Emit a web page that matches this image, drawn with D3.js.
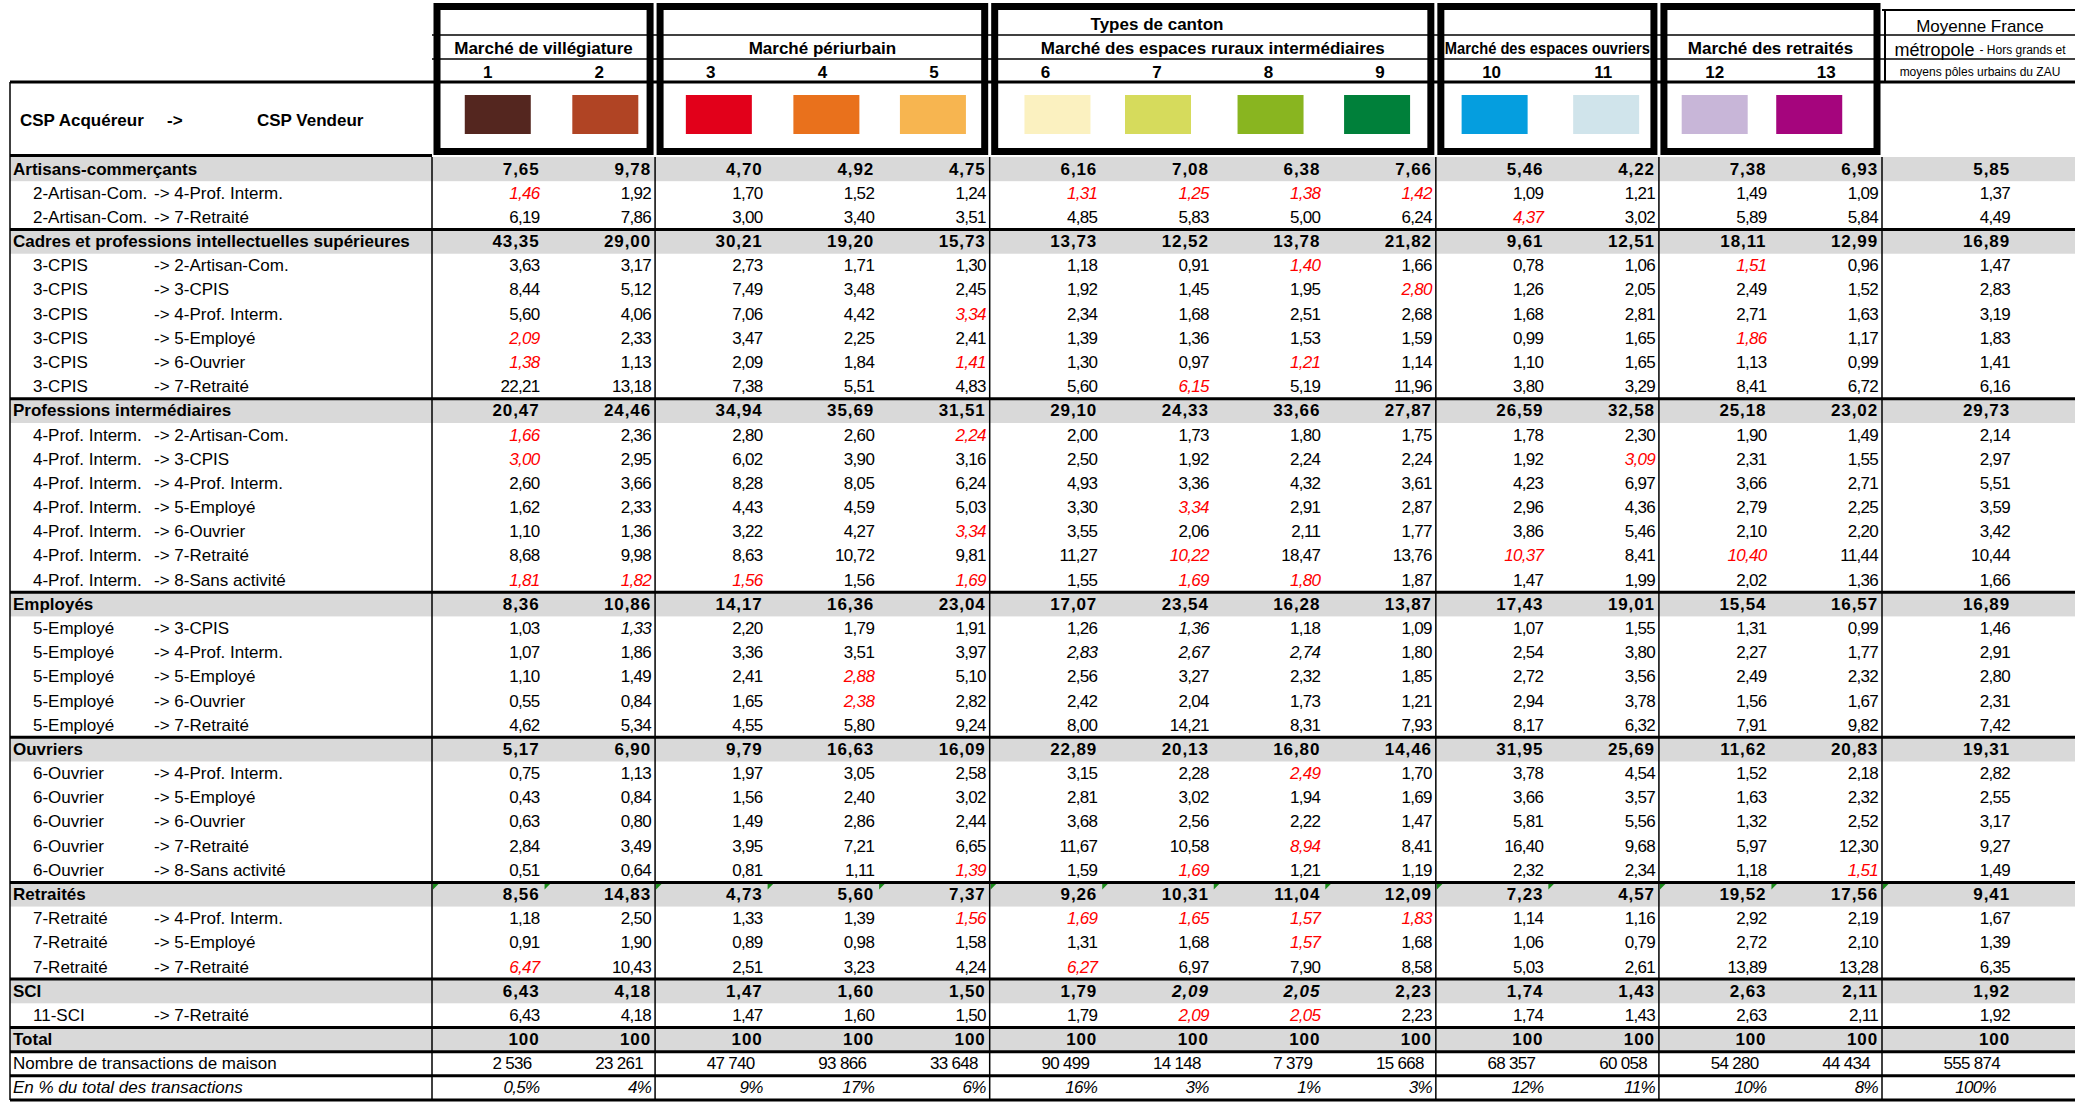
<!DOCTYPE html>
<html>
<head>
<meta charset="utf-8">
<script src="https://cdn.jsdelivr.net/npm/d3@7"></script>
<style>
  body { margin: 0; background: #fff; }
  svg text { font-family: "Liberation Sans", Arial, sans-serif; font-size: 17px; fill: #000; }
</style>
</head>
<body>
<div id="chart"></div>
<script>
// column headers
const colNumbers = ["1", "2", "3", "4", "5", "6", "7", "8", "9", "10", "11", "12", "13"];
const marketNames = ["Marché de villégiature", "Marché périurbain", "Marché des espaces ruraux intermédiaires",
                     "Marché des espaces ouvriers", "Marché des retraités"];
const marketSizes = [2, 3, 4, 2, 2];
const swatchColors = ["#54261f", "#b04424", "#e2001a", "#e9711c", "#f7b550", "#fbf1c0", "#d6db5c",
                      "#89b520", "#00803a", "#059edf", "#d0e4eb", "#c8b6d8", "#a5057d"];

// row labels (acquéreur / vendeur); empty vendeur = group row
const rowLabels = [
  "Artisans-commerçants", "2-Artisan-Com.", "2-Artisan-Com.",
  "Cadres et professions intellectuelles supérieures", "3-CPIS", "3-CPIS", "3-CPIS", "3-CPIS", "3-CPIS", "3-CPIS",
  "Professions intermédiaires", "4-Prof. Interm.", "4-Prof. Interm.", "4-Prof. Interm.", "4-Prof. Interm.", "4-Prof. Interm.", "4-Prof. Interm.", "4-Prof. Interm.",
  "Employés", "5-Employé", "5-Employé", "5-Employé", "5-Employé", "5-Employé",
  "Ouvriers", "6-Ouvrier", "6-Ouvrier", "6-Ouvrier", "6-Ouvrier", "6-Ouvrier",
  "Retraités", "7-Retraité", "7-Retraité", "7-Retraité",
  "SCI", "11-SCI", "Total"
];
const rowTargets = [
  "", "-> 4-Prof. Interm.", "-> 7-Retraité",
  "", "-> 2-Artisan-Com.", "-> 3-CPIS", "-> 4-Prof. Interm.", "-> 5-Employé", "-> 6-Ouvrier", "-> 7-Retraité",
  "", "-> 2-Artisan-Com.", "-> 3-CPIS", "-> 4-Prof. Interm.", "-> 5-Employé", "-> 6-Ouvrier", "-> 7-Retraité", "-> 8-Sans activité",
  "", "-> 3-CPIS", "-> 4-Prof. Interm.", "-> 5-Employé", "-> 6-Ouvrier", "-> 7-Retraité",
  "", "-> 4-Prof. Interm.", "-> 5-Employé", "-> 6-Ouvrier", "-> 7-Retraité", "-> 8-Sans activité",
  "", "-> 4-Prof. Interm.", "-> 5-Employé", "-> 7-Retraité",
  "", "-> 7-Retraité", ""
];

// shares in % : 13 canton types then "Moyenne France"
const rowValues = [
  [7.65, 9.78, 4.70, 4.92, 4.75, 6.16, 7.08, 6.38, 7.66, 5.46, 4.22, 7.38, 6.93, 5.85],
  [1.46, 1.92, 1.70, 1.52, 1.24, 1.31, 1.25, 1.38, 1.42, 1.09, 1.21, 1.49, 1.09, 1.37],
  [6.19, 7.86, 3.00, 3.40, 3.51, 4.85, 5.83, 5.00, 6.24, 4.37, 3.02, 5.89, 5.84, 4.49],
  [43.35, 29.00, 30.21, 19.20, 15.73, 13.73, 12.52, 13.78, 21.82, 9.61, 12.51, 18.11, 12.99, 16.89],
  [3.63, 3.17, 2.73, 1.71, 1.30, 1.18, 0.91, 1.40, 1.66, 0.78, 1.06, 1.51, 0.96, 1.47],
  [8.44, 5.12, 7.49, 3.48, 2.45, 1.92, 1.45, 1.95, 2.80, 1.26, 2.05, 2.49, 1.52, 2.83],
  [5.60, 4.06, 7.06, 4.42, 3.34, 2.34, 1.68, 2.51, 2.68, 1.68, 2.81, 2.71, 1.63, 3.19],
  [2.09, 2.33, 3.47, 2.25, 2.41, 1.39, 1.36, 1.53, 1.59, 0.99, 1.65, 1.86, 1.17, 1.83],
  [1.38, 1.13, 2.09, 1.84, 1.41, 1.30, 0.97, 1.21, 1.14, 1.10, 1.65, 1.13, 0.99, 1.41],
  [22.21, 13.18, 7.38, 5.51, 4.83, 5.60, 6.15, 5.19, 11.96, 3.80, 3.29, 8.41, 6.72, 6.16],
  [20.47, 24.46, 34.94, 35.69, 31.51, 29.10, 24.33, 33.66, 27.87, 26.59, 32.58, 25.18, 23.02, 29.73],
  [1.66, 2.36, 2.80, 2.60, 2.24, 2.00, 1.73, 1.80, 1.75, 1.78, 2.30, 1.90, 1.49, 2.14],
  [3.00, 2.95, 6.02, 3.90, 3.16, 2.50, 1.92, 2.24, 2.24, 1.92, 3.09, 2.31, 1.55, 2.97],
  [2.60, 3.66, 8.28, 8.05, 6.24, 4.93, 3.36, 4.32, 3.61, 4.23, 6.97, 3.66, 2.71, 5.51],
  [1.62, 2.33, 4.43, 4.59, 5.03, 3.30, 3.34, 2.91, 2.87, 2.96, 4.36, 2.79, 2.25, 3.59],
  [1.10, 1.36, 3.22, 4.27, 3.34, 3.55, 2.06, 2.11, 1.77, 3.86, 5.46, 2.10, 2.20, 3.42],
  [8.68, 9.98, 8.63, 10.72, 9.81, 11.27, 10.22, 18.47, 13.76, 10.37, 8.41, 10.40, 11.44, 10.44],
  [1.81, 1.82, 1.56, 1.56, 1.69, 1.55, 1.69, 1.80, 1.87, 1.47, 1.99, 2.02, 1.36, 1.66],
  [8.36, 10.86, 14.17, 16.36, 23.04, 17.07, 23.54, 16.28, 13.87, 17.43, 19.01, 15.54, 16.57, 16.89],
  [1.03, 1.33, 2.20, 1.79, 1.91, 1.26, 1.36, 1.18, 1.09, 1.07, 1.55, 1.31, 0.99, 1.46],
  [1.07, 1.86, 3.36, 3.51, 3.97, 2.83, 2.67, 2.74, 1.80, 2.54, 3.80, 2.27, 1.77, 2.91],
  [1.10, 1.49, 2.41, 2.88, 5.10, 2.56, 3.27, 2.32, 1.85, 2.72, 3.56, 2.49, 2.32, 2.80],
  [0.55, 0.84, 1.65, 2.38, 2.82, 2.42, 2.04, 1.73, 1.21, 2.94, 3.78, 1.56, 1.67, 2.31],
  [4.62, 5.34, 4.55, 5.80, 9.24, 8.00, 14.21, 8.31, 7.93, 8.17, 6.32, 7.91, 9.82, 7.42],
  [5.17, 6.90, 9.79, 16.63, 16.09, 22.89, 20.13, 16.80, 14.46, 31.95, 25.69, 11.62, 20.83, 19.31],
  [0.75, 1.13, 1.97, 3.05, 2.58, 3.15, 2.28, 2.49, 1.70, 3.78, 4.54, 1.52, 2.18, 2.82],
  [0.43, 0.84, 1.56, 2.40, 3.02, 2.81, 3.02, 1.94, 1.69, 3.66, 3.57, 1.63, 2.32, 2.55],
  [0.63, 0.80, 1.49, 2.86, 2.44, 3.68, 2.56, 2.22, 1.47, 5.81, 5.56, 1.32, 2.52, 3.17],
  [2.84, 3.49, 3.95, 7.21, 6.65, 11.67, 10.58, 8.94, 8.41, 16.40, 9.68, 5.97, 12.30, 9.27],
  [0.51, 0.64, 0.81, 1.11, 1.39, 1.59, 1.69, 1.21, 1.19, 2.32, 2.34, 1.18, 1.51, 1.49],
  [8.56, 14.83, 4.73, 5.60, 7.37, 9.26, 10.31, 11.04, 12.09, 7.23, 4.57, 19.52, 17.56, 9.41],
  [1.18, 2.50, 1.33, 1.39, 1.56, 1.69, 1.65, 1.57, 1.83, 1.14, 1.16, 2.92, 2.19, 1.67],
  [0.91, 1.90, 0.89, 0.98, 1.58, 1.31, 1.68, 1.57, 1.68, 1.06, 0.79, 2.72, 2.10, 1.39],
  [6.47, 10.43, 2.51, 3.23, 4.24, 6.27, 6.97, 7.90, 8.58, 5.03, 2.61, 13.89, 13.28, 6.35],
  [6.43, 4.18, 1.47, 1.60, 1.50, 1.79, 2.09, 2.05, 2.23, 1.74, 1.43, 2.63, 2.11, 1.92],
  [6.43, 4.18, 1.47, 1.60, 1.50, 1.79, 2.09, 2.05, 2.23, 1.74, 1.43, 2.63, 2.11, 1.92],
  [100, 100, 100, 100, 100, 100, 100, 100, 100, 100, 100, 100, 100, 100]
];

// [row, col] of cells shown in red italic / black italic
const redCells = [[1,0],[1,5],[1,6],[1,7],[1,8],[2,9],[4,7],[4,11],[5,8],[6,4],[7,0],[7,11],
  [8,0],[8,4],[8,7],[9,6],[11,0],[11,4],[12,0],[12,10],[14,6],[15,4],[16,6],[16,9],[16,11],
  [17,0],[17,1],[17,2],[17,4],[17,6],[17,7],[21,3],[22,3],[25,7],[28,7],[29,4],[29,6],[29,12],
  [31,4],[31,5],[31,6],[31,7],[31,8],[32,7],[33,0],[33,5],[35,6],[35,7]];
const italicCells = [[19,1],[19,6],[20,5],[20,6],[20,7],[34,6],[34,7]];

const countLabel = "Nombre de transactions de maison";
const transactionCounts = [2536, 23261, 47740, 93866, 33648, 90499, 14148, 7379, 15668, 68357, 60058, 54280, 44434, 555874];
const shareLabel = "En % du total des transactions";
const transactionShares = [0.5, 4, 9, 17, 6, 16, 3, 1, 3, 12, 11, 10, 8, 100];

// layout
const width = 2075, height = 1103;
const tableLeft = 10, headTop = 3, headRows = [10, 35, 59, 82], bodyTop = 157, bodyBottom = 1100;
const moyRight = 2010;
const swatchShift = [10, 6, 8, 4, -1, 12, 1, 2, -3, 3, 3, 0, -17];   // swatches are not exactly centred

const fr = d3.formatLocale({decimal: ",", thousands: " ", grouping: [3], currency: ["", " €"]});
const fmtPct = fr.format(".2f"), fmtInt = fr.format(",d"), fmtOne = fr.format(".1f");

const svg = d3.select("#chart")
  .append("svg")
  .attr("width", width)
  .attr("height", height);

// scales
const x = d3.scaleBand().domain(d3.range(13)).range([432, 1882]);
const bw = x.bandwidth();
const y = d3.scaleBand().domain(d3.range(rowValues.length + 2)).range([bodyTop, bodyBottom]);
const bh = y.bandwidth();
const moyLeft = x.range()[1];

const isGroup = i => rowTargets[i] === "";
const cellKey = (r, c) => r + ":" + c;
const redSet = new Set(redCells.map(d => cellKey(d[0], d[1])));
const italicSet = new Set(italicCells.map(d => cellKey(d[0], d[1])));

// gray group rows
svg.append("g")
  .selectAll("rect")
  .data(d3.range(rowValues.length).filter(isGroup))
  .join("rect")
  .attr("x", tableLeft)
  .attr("y", d => y(d))
  .attr("width", width - tableLeft)
  .attr("height", bh)
  .attr("fill", "#d9d9d9");

// market boxes (start / end column)
let starts = [0];
marketSizes.forEach((s, i) => starts.push(starts[i] + s));
const boxes = marketNames.map((n, i) => ({name: n, from: starts[i], to: starts[i + 1]}));
const bx0 = b => x(b.from), bx1 = b => b.to === 13 ? moyLeft : x(b.to);

// header lines
const hdr = svg.append("g").attr("stroke", "#000");
[headRows[1], headRows[2]].forEach(yy => {
  hdr.append("line").attr("x1", x(0)).attr("x2", width).attr("y1", yy).attr("y2", yy).attr("stroke-width", 1.5);
});
hdr.append("line").attr("x1", moyLeft).attr("x2", width).attr("y1", headRows[0]).attr("y2", headRows[0]).attr("stroke-width", 2);
hdr.append("line").attr("x1", tableLeft).attr("x2", width).attr("y1", headRows[3]).attr("y2", headRows[3]).attr("stroke-width", 3);
hdr.append("line").attr("x1", tableLeft).attr("x2", x(0)).attr("y1", bodyTop - 1.5).attr("y2", bodyTop - 1.5).attr("stroke-width", 3);
hdr.append("line").attr("x1", moyLeft + 3).attr("x2", moyLeft + 3).attr("y1", headRows[0]).attr("y2", headRows[3]).attr("stroke-width", 2);

// swatches
svg.append("g")
  .selectAll("rect")
  .data(swatchColors)
  .join("rect")
  .attr("x", (d, i) => x(i) + bw / 2 - 33 + swatchShift[i])
  .attr("y", 95)
  .attr("width", 66)
  .attr("height", 39)
  .attr("fill", d => d);

// thick boxes
svg.append("g")
  .selectAll("rect")
  .data(boxes)
  .join("rect")
  .attr("x", d => bx0(d) + 5)
  .attr("y", headTop + 3.5)
  .attr("width", d => bx1(d) - bx0(d) - 10)
  .attr("height", 155 - headTop - 7)
  .attr("fill", "none")
  .attr("stroke", "#000")
  .attr("stroke-width", 7);

// header texts
const head = svg.append("g").attr("text-anchor", "middle").attr("dominant-baseline", "central");
head.append("text")
  .attr("x", (x(5) + x(8)) / 2)
  .attr("y", 24)
  .attr("font-weight", "bold")
  .text("Types de canton");
head.selectAll(".market")
  .data(boxes)
  .join("text")
  .attr("class", "market")
  .attr("x", d => (bx0(d) + bx1(d)) / 2)
  .attr("y", 48)
  .attr("font-weight", "bold")
  .text(d => d.name)
  .each(function (d) {
    // squeeze names that are wider than their box
    const room = bx1(d) - bx0(d) - 18;
    if (this.getComputedTextLength() > room) {
      d3.select(this).attr("textLength", room).attr("lengthAdjust", "spacingAndGlyphs");
    }
  });
head.selectAll(".num")
  .data(colNumbers)
  .join("text")
  .attr("class", "num")
  .attr("x", (d, i) => x(i) + bw / 2)
  .attr("y", 72)
  .attr("font-weight", "bold")
  .text(d => d);

const moyC = 1980;
head.append("text").attr("x", moyC).attr("y", 26).text("Moyenne France");
const m2 = head.append("text").attr("x", moyC).attr("y", 50);
m2.append("tspan").style("font-size", "18px").text("métropole ");
m2.append("tspan").style("font-size", "12px").text("- Hors grands et");
head.append("text").attr("x", moyC).attr("y", 72).style("font-size", "12px").text("moyens pôles urbains du ZAU");

const csp = svg.append("g").attr("font-weight", "bold").attr("dominant-baseline", "central");
csp.append("text").attr("x", 20).attr("y", 120).text("CSP Acquéreur");
csp.append("text").attr("x", 167).attr("y", 120).text("->");
csp.append("text").attr("x", 257).attr("y", 120).text("CSP Vendeur");

// body text
const body = svg.append("g").attr("dominant-baseline", "central");
const rows = body.selectAll(".row")
  .data(rowValues)
  .join("g")
  .attr("class", "row")
  .attr("transform", (d, i) => `translate(0,${y(i) + bh / 2})`)
  .attr("font-weight", (d, i) => isGroup(i) ? "bold" : null);

rows.append("text")
  .attr("x", (d, i) => isGroup(i) ? 13 : 33)
  .text((d, i) => rowLabels[i]);
rows.filter((d, i) => !isGroup(i))
  .append("text")
  .attr("x", 154)
  .text(d => rowTargets[rowValues.indexOf(d)]);

const totalRow = rowLabels.indexOf("Total");
rows.each(function (vals, r) {
  d3.select(this).selectAll(".val")
    .data(vals)
    .join("text")
    .attr("class", "val")
    .attr("text-anchor", "end")
    .attr("x", (d, c) => c < 13 ? x(c) + bw - 4 : moyRight)
    .style("letter-spacing", isGroup(r) ? "0.9px" : "-0.7px")
    .style("fill", (d, c) => redSet.has(cellKey(r, c)) ? "#ff0000" : "#000")
    .attr("font-style", (d, c) => redSet.has(cellKey(r, c)) || italicSet.has(cellKey(r, c)) ? "italic" : null)
    .text(d => r === totalRow ? fmtInt(d) : fmtPct(d));
});

// transactions rows
const nRow = rowValues.length;
const countG = body.append("g").attr("transform", `translate(0,${y(nRow) + bh / 2})`);
countG.append("text").attr("x", 13).text(countLabel);
countG.selectAll(".val")
  .data(transactionCounts)
  .join("text")
  .attr("class", "val")
  .attr("text-anchor", "end")
  .style("letter-spacing", "-0.7px")
  .attr("x", (d, c) => c < 13 ? x(c) + bw - 12 : moyRight - 10)
  .text(d => fmtInt(d));

const shareG = body.append("g").attr("transform", `translate(0,${y(nRow + 1) + bh / 2})`).attr("font-style", "italic");
shareG.append("text").attr("x", 13).text(shareLabel);
shareG.selectAll(".val")
  .data(transactionShares)
  .join("text")
  .attr("class", "val")
  .attr("text-anchor", "end")
  .style("letter-spacing", "-0.7px")
  .attr("x", (d, c) => c < 13 ? x(c) + bw - 4 : moyRight - 14)
  .text(d => (Number.isInteger(d) ? fmtInt(d) : fmtOne(d)) + "%");

// green comment markers on Retraités row
const flagRow = rowLabels.indexOf("Retraités");
svg.append("g")
  .selectAll("path")
  .data(d3.range(14))
  .join("path")
  .attr("d", c => {
    const x0 = c < 13 ? x(c) + 1 : moyLeft + 1, y0 = y(flagRow) + 1;
    return `M${x0},${y0}h6l-6,6z`;
  })
  .attr("fill", "#1a8a1a");

// grid: verticals at market boundaries
const grid = svg.append("g").attr("stroke", "#000");
const vCols = [0].concat(starts.slice(1));
grid.selectAll(".v")
  .data(vCols)
  .join("line")
  .attr("class", "v")
  .attr("x1", c => c < 13 ? x(c) : moyLeft)
  .attr("x2", c => c < 13 ? x(c) : moyLeft)
  .attr("y1", bodyTop)
  .attr("y2", bodyBottom)
  .attr("stroke-width", 1.5);
grid.append("line")
  .attr("x1", tableLeft).attr("x2", tableLeft)
  .attr("y1", headRows[3]).attr("y2", bodyBottom)
  .attr("stroke-width", 1.5);

// thick horizontal lines above each group and around the bottom rows
const thick = d3.range(1, rowValues.length).filter(isGroup).concat([nRow, nRow + 1, nRow + 2]);
grid.selectAll(".h")
  .data(thick)
  .join("line")
  .attr("class", "h")
  .attr("x1", tableLeft)
  .attr("x2", width)
  .attr("y1", i => i < nRow + 2 ? y(i) : bodyBottom)
  .attr("y2", i => i < nRow + 2 ? y(i) : bodyBottom)
  .attr("stroke-width", 3);
</script>
</body>
</html>
